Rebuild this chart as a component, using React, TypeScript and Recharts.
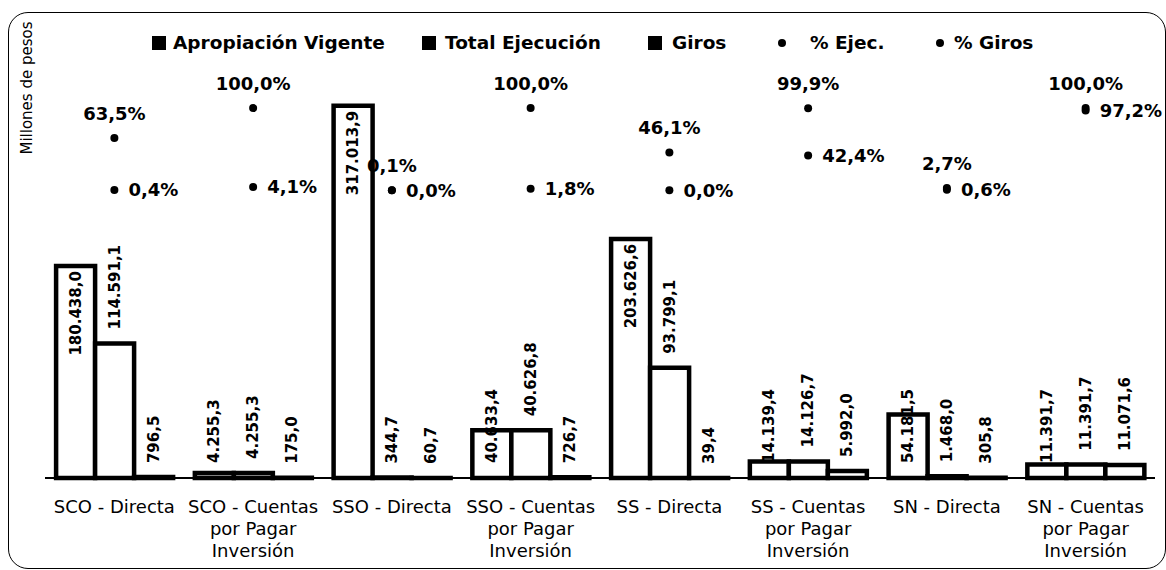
import { ComposedChart, Bar, Line, XAxis, YAxis, LabelList } from 'recharts';

const categories = [
  'SCO - Directa',
  'SCO - Cuentas por Pagar Inversión',
  'SSO - Directa',
  'SSO - Cuentas por Pagar Inversión',
  'SS - Directa',
  'SS - Cuentas por Pagar Inversión',
  'SN - Directa',
  'SN - Cuentas por Pagar Inversión',
];
const apropiacion = [180438.0, 4255.3, 317013.9, 40633.4, 203626.6, 14139.4, 54181.5, 11391.7];
const ejecucion = [114591.1, 4255.3, 344.7, 40626.8, 93799.1, 14126.7, 1468.0, 11391.7];
const giros = [796.5, 175.0, 60.7, 726.7, 39.4, 5992.0, 305.8, 11071.6];
const pctEjec = [63.5, 100.0, 0.1, 100.0, 46.1, 99.9, 2.7, 100.0];
const pctGiros = [0.4, 4.1, 0.0, 1.8, 0.0, 42.4, 0.6, 97.2];

const FONT = '"DejaVu Sans", sans-serif';

const data = categories.map((name, i) => ({
  name,
  apropiacion: apropiacion[i],
  ejecucion: ejecucion[i],
  giros: giros[i],
  pctEjec: pctEjec[i],
  pctGiros: pctGiros[i],
}));

function fmtNum(v: number): string {
  const [int, dec] = v.toFixed(1).split('.');
  return int.replace(/\B(?=(\d{3})+(?!\d))/g, '.') + ',' + dec;
}

function fmtPct(v: number): string {
  return v.toFixed(1).replace('.', ',') + '%';
}

// rotated value label; apropiacion labels sit inside the bar top when it is tall, else near the base
function barLabel(kind: 'ap' | 'out') {
  return (props: any) => {
    const box = props.viewBox ?? props;
    const { x, y, width, height } = box;
    const cx = x + width / 2;
    const base = y + height;
    let ay = y - 14;
    let anchor: 'start' | 'end' = 'start';
    if (kind === 'ap') {
      if (height > 120) {
        ay = y + 5;
        anchor = 'end';
      } else {
        ay = base - 15;
      }
    }
    return (
      <text
        x={cx}
        y={ay}
        transform={`rotate(-90 ${cx} ${ay})`}
        textAnchor={anchor}
        dominantBaseline="central"
        fontFamily={FONT}
        fontWeight="bold"
        fontSize={15}
        fill="#000"
      >
        {fmtNum(props.value)}
      </text>
    );
  };
}

const ejecLabel = (props: any) => (
  <text x={props.x} y={props.y - 25} textAnchor="middle" dominantBaseline="central"
    fontFamily={FONT} fontWeight="bold" fontSize={18} fill="#000">
    {fmtPct(props.value)}
  </text>
);

const girosLabel = (props: any) => (
  <text x={props.x + 14} y={props.y} textAnchor="start" dominantBaseline="central"
    fontFamily={FONT} fontWeight="bold" fontSize={18} fill="#000">
    {fmtPct(props.value)}
  </text>
);

function CategoryTick(props: any) {
  const { x, y, payload } = props;
  const lines = String(payload.value).replace(' por Pagar ', '\npor Pagar\n').split('\n');
  return (
    <text x={x} y={y} textAnchor="middle" fontFamily={FONT} fontSize={18} fill="#000">
      {lines.map((l, i) => (
        <tspan key={i} x={x} dy={i === 0 ? 33 : 22}>{l}</tspan>
      ))}
    </text>
  );
}

const legendItems = [
  { label: 'Apropiación Vigente', shape: 'square', left: 152, gap: 7 },
  { label: 'Total Ejecución', shape: 'square', left: 422, gap: 9 },
  { label: 'Giros', shape: 'square', left: 648, gap: 10 },
  { label: '% Ejec.', shape: 'dot', left: 778, gap: 24 },
  { label: '% Giros', shape: 'dot', left: 936, gap: 10 },
];

export default function App() {
  return (
    <div style={{ position: 'absolute', left: 0, top: 0, width: 1166, height: 570, background: '#fff', overflow: 'hidden' }}>
      <div style={{
        position: 'absolute', left: 8, top: 12, width: 1158, height: 557,
        border: '1.5px solid #000', borderRadius: 20, boxSizing: 'border-box',
      }} />
      <div style={{
        position: 'absolute', left: 27, top: 88, transform: 'translate(-50%, -50%) rotate(-90deg)',
        whiteSpace: 'nowrap', fontFamily: FONT, fontSize: 15, color: '#000',
      }}>
        Millones de pesos
      </div>
      {legendItems.map((it) => (
        <div key={it.label} style={{
          position: 'absolute', left: it.left, top: 32, display: 'flex', alignItems: 'center', gap: it.gap,
          fontFamily: FONT, fontWeight: 'bold', fontSize: 18.5, color: '#000', whiteSpace: 'nowrap',
        }}>
          <span style={{
            display: 'inline-block', width: it.shape === 'dot' ? 8 : 14, height: it.shape === 'dot' ? 8 : 14,
            borderRadius: it.shape === 'dot' ? '50%' : 0, background: '#000',
          }} />
          <span>{it.label}</span>
        </div>
      ))}
      <ComposedChart
        width={1166}
        height={570}
        data={data}
        margin={{ top: 67, right: 11, bottom: 12, left: 45 }}
        barCategoryGap="8%"
        barGap={0}
        style={{ position: 'absolute', left: 0, top: 0 }}
      >
        <XAxis
          dataKey="name"
          interval={0}
          height={80}
          tickLine={false}
          tickSize={0}
          axisLine={{ stroke: '#000', strokeWidth: 2 }}
          tick={<CategoryTick />}
        />
        <YAxis yAxisId="left" hide domain={[0, 350000]} />
        <YAxis yAxisId="pct" orientation="right" hide domain={[-350, 150]} />
        <Bar yAxisId="left" dataKey="apropiacion" fill="#fff" stroke="#000" strokeWidth={4.5} isAnimationActive={false}>
          <LabelList dataKey="apropiacion" content={barLabel('ap')} />
        </Bar>
        <Bar yAxisId="left" dataKey="ejecucion" fill="#fff" stroke="#000" strokeWidth={4.5} isAnimationActive={false}>
          <LabelList dataKey="ejecucion" content={barLabel('out')} />
        </Bar>
        <Bar yAxisId="left" dataKey="giros" fill="#fff" stroke="#000" strokeWidth={4.5} isAnimationActive={false}>
          <LabelList dataKey="giros" content={barLabel('out')} />
        </Bar>
        <Line yAxisId="pct" dataKey="pctEjec" stroke="none" dot={{ r: 4, fill: '#000', stroke: '#000', strokeWidth: 0 }}
          activeDot={false} isAnimationActive={false}>
          <LabelList dataKey="pctEjec" content={ejecLabel} />
        </Line>
        <Line yAxisId="pct" dataKey="pctGiros" stroke="none" dot={{ r: 4, fill: '#000', stroke: '#000', strokeWidth: 0 }}
          activeDot={false} isAnimationActive={false}>
          <LabelList dataKey="pctGiros" content={girosLabel} />
        </Line>
      </ComposedChart>
    </div>
  );
}
